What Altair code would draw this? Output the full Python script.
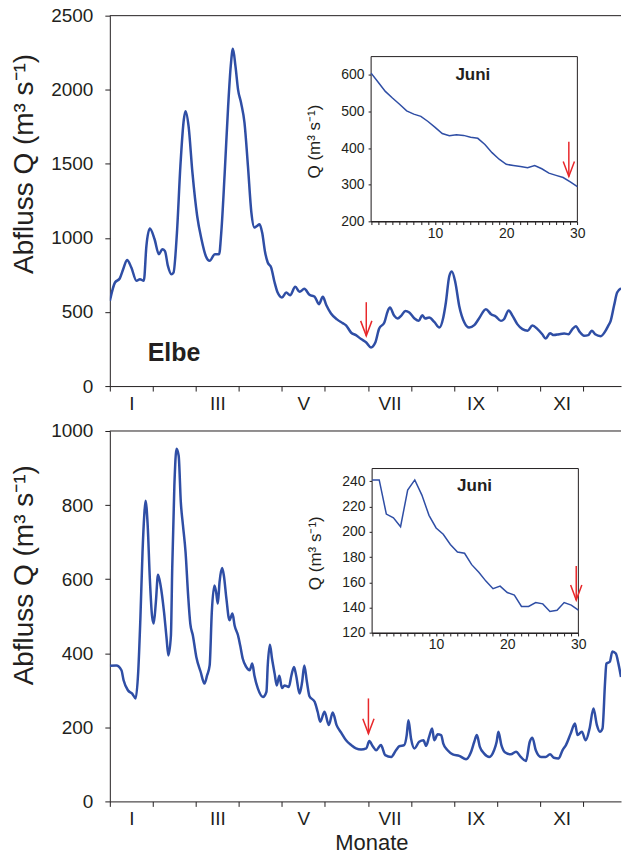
import json
import altair as alt
import pandas as pd

FONT = "Liberation Sans"
BLUE = "#2f4ea5"
RED = "#e8282b"
INK = "#231f20"

# ---------------- data ----------------
# position along the year in months (0 = 1 January, 12 = 31 December)
elbe_t = [0.00, 0.12, 0.23, 0.31, 0.40, 0.50, 0.62, 0.70, 0.79, 0.85, 0.93, 1.04, 1.14, 1.22,
          1.28, 1.35, 1.43, 1.48, 1.56, 1.64, 1.72, 1.76, 1.83, 1.92, 2.03, 2.13, 2.23, 2.32,
          2.44, 2.54, 2.59, 2.67, 2.75, 2.81, 2.86, 2.92, 2.98, 3.05, 3.13, 3.21, 3.29, 3.36,
          3.42, 3.48, 3.54, 3.61, 3.67, 3.75, 3.83, 3.90, 4.00, 4.10, 4.19, 4.31, 4.41, 4.52,
          4.64, 4.76, 4.86, 4.95, 5.03, 5.14, 5.28, 5.41, 5.49, 5.61, 5.72, 5.84, 5.96, 6.07,
          6.17, 6.26, 6.38, 6.46, 6.51, 6.61, 6.69, 6.77, 6.87, 6.96, 7.08, 7.18, 7.26, 7.33,
          7.42, 7.54, 7.66, 7.75, 7.81, 7.89, 7.95, 8.03, 8.12, 8.24, 8.35, 8.47, 8.58, 8.74,
          8.86, 8.97, 9.09, 9.16, 9.27, 9.36, 9.47, 9.59, 9.71, 9.82, 9.94, 10.05, 10.13, 10.23,
          10.32, 10.44, 10.56, 10.66, 10.75, 10.83, 10.92, 11.02, 11.12, 11.20, 11.28, 11.41,
          11.52, 11.58, 11.64, 11.72, 11.79, 11.88]
elbe_q = [575, 699, 726, 788, 851, 800, 710, 721, 710, 945, 1063, 991, 890, 923,
          912, 811, 755, 766, 1036, 1485, 1799, 1855, 1754, 1440, 1148, 991, 878, 845,
          890, 890, 1036, 1440, 1889, 2159, 2276, 2159, 2001, 1912, 1777, 1485, 1171, 1070,
          1080, 1092, 1036, 901, 834, 800, 699, 631, 598, 631, 613, 670, 636, 656,
          616, 603, 553, 602, 547, 490, 450, 425, 410, 360, 344, 317, 294, 261,
          294, 389, 429, 507, 530, 474, 456, 474, 507, 496, 456, 440, 478, 456,
          463, 433, 395, 463, 564, 743, 773, 699, 541, 429, 395, 411, 456, 519,
          485, 470, 440, 451, 510, 474, 418, 384, 373, 408, 384, 350, 321, 357,
          344, 350, 355, 350, 384, 404, 366, 340, 344, 373, 350, 337,
          373, 405, 440, 545, 631, 660]

fluss_t = [0.00, 0.15, 0.27, 0.32, 0.42, 0.52, 0.60, 0.66, 0.71, 0.76, 0.80, 0.83, 0.88, 0.93,
           0.98, 1.02, 1.07, 1.12, 1.18, 1.26, 1.32, 1.36, 1.42, 1.45, 1.50, 1.55, 1.60, 1.65,
           1.70, 1.76, 1.82, 1.87, 1.93, 2.01, 2.11, 2.20, 2.26, 2.32, 2.37, 2.43, 2.47, 2.51,
           2.55, 2.61, 2.65, 2.71, 2.78, 2.85, 2.90, 2.98, 3.03, 3.09, 3.17, 3.25, 3.31, 3.36,
           3.44, 3.56, 3.64, 3.67, 3.72, 3.77, 3.83, 3.88, 3.94, 4.00, 4.06, 4.16, 4.22, 4.28,
           4.33, 4.41, 4.47, 4.52, 4.58, 4.64, 4.76, 4.83, 4.89, 4.99, 5.09, 5.18, 5.27, 5.38,
           5.49, 5.61, 5.72, 5.84, 5.96, 6.03, 6.11, 6.19, 6.30, 6.40, 6.54, 6.65, 6.73, 6.84,
           6.90, 6.94, 7.00, 7.08, 7.19, 7.29, 7.35, 7.42, 7.49, 7.54, 7.62, 7.70, 7.75, 7.85,
           7.97, 8.12, 8.28, 8.39, 8.47, 8.53, 8.60, 8.70, 8.82, 8.93, 8.99, 9.03, 9.10, 9.19,
           9.32, 9.44, 9.55, 9.67, 9.76, 9.82, 9.90, 10.02, 10.13, 10.23, 10.32, 10.43, 10.52,
           10.60, 10.71, 10.81, 10.87, 10.97, 11.06, 11.15, 11.24, 11.32, 11.39, 11.45, 11.51,
           11.54, 11.62, 11.68, 11.76, 11.82, 11.88]
fluss_q = [366, 367, 354, 327, 300, 291, 278, 350, 493, 673, 772, 812, 745, 601,
           502, 480, 538, 612, 583, 511, 439, 394, 448, 628, 852, 952, 933, 808,
           745, 673, 556, 480, 448, 390, 350, 318, 340, 367, 511, 583, 565, 534,
           592, 630, 610, 547, 489, 507, 475, 448, 421, 385, 363, 354, 372, 340,
           305, 282, 296, 367, 423, 385, 345, 313, 339, 306, 313, 309, 340, 363,
           340, 291, 323, 367, 323, 284, 269, 242, 215, 242, 206, 240, 206, 185,
           165, 152, 143, 140, 143, 163, 149, 138, 152, 125, 120, 138, 149, 152,
           179, 219, 170, 143, 161, 165, 150, 174, 197, 165, 181, 179, 156, 138,
           127, 123, 114, 132, 161, 179, 147, 129, 120, 138, 161, 188, 152, 132,
           127, 134, 120, 109, 161, 172, 138, 120, 120, 127, 118, 116, 138,
           152, 183, 210, 179, 188, 165, 197, 251, 206, 188, 197, 323,
           372, 377, 405, 399, 372, 336]

juni_tag = list(range(1, 31))
elbe_juni = [605, 580, 555, 537, 520, 502, 493, 487, 473, 457, 440, 434, 437, 435, 430,
             427, 410, 388, 370, 356, 353, 350, 347, 353, 344, 332, 326, 320, 308, 295]
fluss_juni = [241, 241, 214, 211, 204, 233, 241, 229, 213, 203, 198, 190, 184, 183, 174,
              168, 161, 155, 157, 152, 150, 141, 141, 144, 143, 137, 138, 144, 142, 138]

monate = ["I", "II", "III", "IV", "V", "VI", "VII", "VIII", "IX", "X", "XI", "XII"]

# ---------------- layout ----------------
W, H = 512, 371
T_MAX = 11.88
MONTH_PX = W / T_MAX
HEAD = "M-0.75,-2L0,0L0.75,-2"
Y_TITLE = "Abfluss Q (m\u00b3 s\u207b\u00b9)"
Q_TITLE = "Q (m\u00b3 s\u207b\u00b9)"


def panel(t, q, ymax, ystep, juni, jdom, jstep, xr, yr, arrow, iarrow, juni_pos,
          show_xtitle, title_y, label=None):
    df = pd.DataFrame({"t": t, "q": q})
    xs = alt.Scale(domain=[0, T_MAX], nice=False, zero=False)
    ys = alt.Scale(domain=[0, ymax], nice=False, zero=False)

    xkw = dict(values=list(range(12)),
               labelExpr="datum.value % 2 === 0 ? " + json.dumps(monate) + "[datum.value] : ''",
               labelOffset=MONTH_PX / 2, tickSize=5, labelPadding=3, labelFontSize=19,
               labelFlush=False, labelOverlap=False, grid=False)
    if show_xtitle:
        xkw.update(title="Monate", titleFontSize=22, titleFontWeight="normal",
                   titlePadding=4, titleX=W / 2 + 6)
    else:
        xkw.update(title=None)
    xaxis = alt.Axis(**xkw)
    yaxis = alt.Axis(values=list(range(0, ymax + 1, ystep)), format="d", tickSize=5,
                     labelPadding=12, labelFontSize=19, labelFlush=False, labelOverlap=False,
                     grid=False, title=Y_TITLE, titleFontSize=28, titleFontWeight="normal",
                     titleAngle=270, titleX=-77, titleY=title_y, titleBaseline="alphabetic")

    def X(f):
        return alt.X(f, scale=xs, axis=xaxis)

    def Y(f):
        return alt.Y(f, scale=ys, axis=yaxis)

    line = alt.Chart(df).mark_line(color=BLUE, strokeWidth=2.5, interpolate="monotone",
                                   clip=True).encode(x=X("t:Q"), y=Y("q:Q"))
    top = alt.Chart(pd.DataFrame({"q": [ymax]})).mark_rule(color=INK, strokeWidth=1).encode(
        y=Y("q:Q"))
    adf = pd.DataFrame({"t": [arrow[0]], "q1": [arrow[1]], "q2": [arrow[2]]})
    shaft = alt.Chart(adf).mark_rule(color=RED, strokeWidth=1.5).encode(
        x=X("t:Q"), y=Y("q1:Q"), y2="q2:Q")
    head = alt.Chart(adf).mark_point(shape=HEAD, size=225, filled=False, color=RED,
                                     strokeWidth=1.5, opacity=1).encode(
        x=X("t:Q"), y=Y("q2:Q"))
    main_layers = [line, top, shaft, head]
    if label:
        ldf = pd.DataFrame({"t": [label[0]], "q": [label[1]], "name": [label[2]]})
        main_layers.append(alt.Chart(ldf).mark_text(
            font=FONT, fontSize=25, fontWeight="bold", align="left", baseline="alphabetic",
            color=INK).encode(x=X("t:Q"), y=Y("q:Q"), text="name:N"))
    main = alt.layer(*main_layers)

    # ---- inset (June) ----
    ixs = alt.Scale(domain=[1, 30], range=list(xr), nice=False, zero=False)
    iys = alt.Scale(domain=list(jdom), range=list(yr), nice=False, zero=False)
    ixaxis = alt.Axis(orient="bottom", offset=yr[0] - H, values=juni_tag,
                      labelExpr="datum.value % 10 === 0 ? datum.label : ''",
                      tickSize=3, labelPadding=2, labelFontSize=14, labelFlush=False,
                      labelOverlap=False, grid=False, title=None)
    iyaxis = alt.Axis(orient="left", offset=-xr[0],
                      values=list(range(jdom[0], jdom[1], jstep)),
                      tickSize=3, labelPadding=4, labelFontSize=14, labelFlush=False,
                      labelOverlap=False, grid=False, title=Q_TITLE, titleFontSize=17,
                      titleFontWeight="normal", titleAngle=270, titleX=-52,
                      titleY=(yr[0] + yr[1]) / 2 + 2, titleBaseline="alphabetic")

    def IX(f):
        return alt.X(f, scale=ixs, axis=ixaxis)

    def IY(f):
        return alt.Y(f, scale=iys, axis=iyaxis)

    fdf = pd.DataFrame({"x0": [1], "x1": [30], "y0": [jdom[0]], "y1": [jdom[1]]})
    frame = alt.Chart(fdf).mark_rect(fill="white", stroke=INK, strokeWidth=1).encode(
        x=IX("x0:Q"), x2="x1:Q", y=IY("y0:Q"), y2="y1:Q")
    jdf = pd.DataFrame({"tag": juni_tag, "q": juni})
    iline = alt.Chart(jdf).mark_line(color=BLUE, strokeWidth=1.5).encode(
        x=IX("tag:Q"), y=IY("q:Q"))
    iadf = pd.DataFrame({"tag": [iarrow[0]], "q1": [iarrow[1]], "q2": [iarrow[2]]})
    ishaft = alt.Chart(iadf).mark_rule(color=RED, strokeWidth=1.5).encode(
        x=IX("tag:Q"), y=IY("q1:Q"), y2="q2:Q")
    ihead = alt.Chart(iadf).mark_point(shape=HEAD, size=225, filled=False, color=RED,
                                       strokeWidth=1.5, opacity=1).encode(
        x=IX("tag:Q"), y=IY("q2:Q"))
    tdf = pd.DataFrame({"tag": [juni_pos[0]], "q": [juni_pos[1]], "txt": ["Juni"]})
    jtext = alt.Chart(tdf).mark_text(font=FONT, fontSize=17, fontWeight="bold",
                                     baseline="middle", align="center", color=INK).encode(
        x=IX("tag:Q"), y=IY("q:Q"), text="txt:N")
    inset = alt.layer(frame, iline, ishaft, ihead, jtext)

    return alt.layer(main, inset).resolve_scale(x="independent", y="independent").properties(
        width=W, height=H)


top_panel = panel(elbe_t, elbe_q, 2500, 500, elbe_juni, (200, 650), 100,
                  (261.7, 468.3), (206.2, 41.0), (5.96, 566, 339), (28.8, 418, 323),
                  (15.3, 600), False, 148, label=(0.88, 168, "Elbe"))
bottom_panel = panel(fluss_t, fluss_q, 1000, 200, fluss_juni, (120, 250), 20,
                     (262.7, 469.3), (202.3, 37.6), (6.01, 278, 183), (29.7, 173, 146),
                     (15.4, 236), True, 144)

chart = alt.vconcat(top_panel, bottom_panel, spacing=45, bounds="flush").properties(
    padding={"left": 11, "top": 6, "right": 0, "bottom": 0}
).configure_view(stroke=None).configure_axis(
    domainColor=INK, tickColor=INK, labelColor=INK, titleColor=INK,
    labelFont=FONT, titleFont=FONT, grid=False, domainWidth=1, tickWidth=1
).configure_text(font=FONT)

chart.save("out.html", embed_options={"renderer": "svg", "actions": False})
